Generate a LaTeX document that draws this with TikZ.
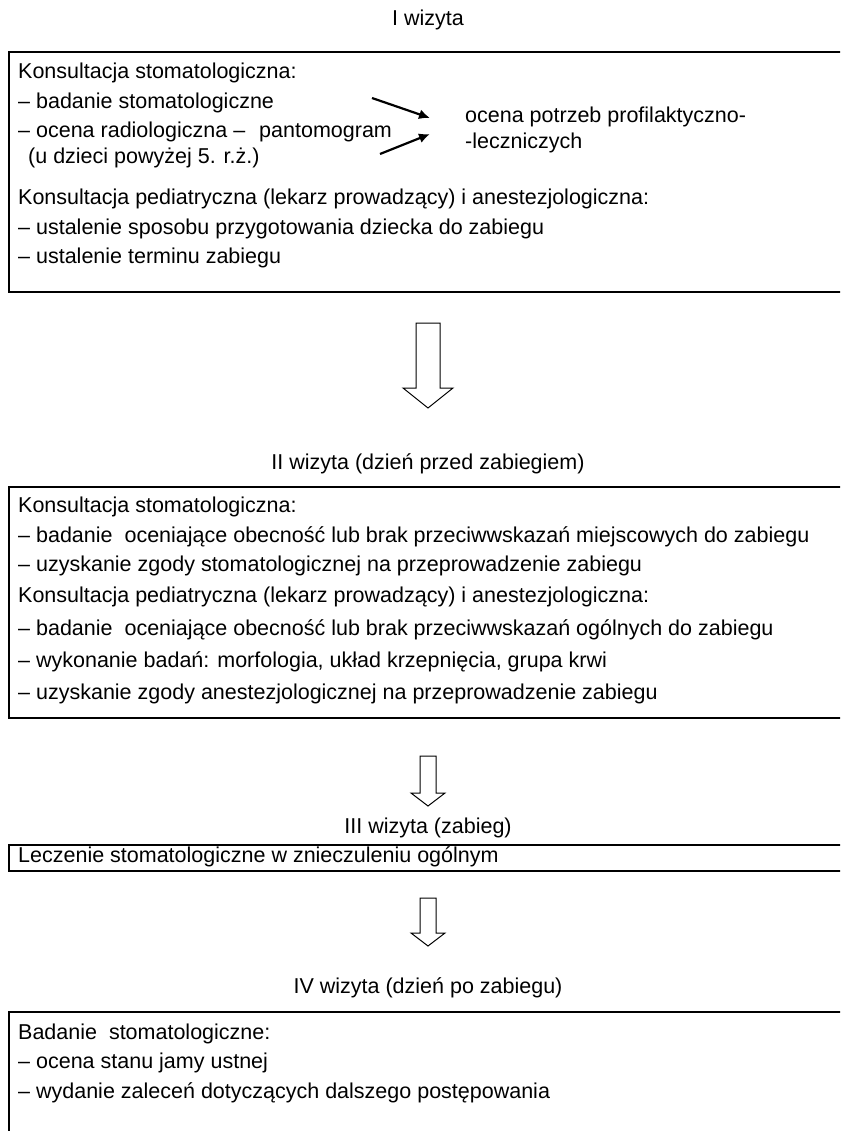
\documentclass[tikz,border=0pt]{standalone}
\usepackage{fontspec}
\setmainfont{Liberation Sans}
\usetikzlibrary{arrows.meta}
\begin{document}
\begin{tikzpicture}[x=1pt,y=-1pt,
  txt/.style={anchor=west,inner sep=0pt,font=\fontsize{21.5}{24}\selectfont},
  ttl/.style={anchor=center,inner sep=0pt,font=\fontsize{21.5}{24}\selectfont},
  boxst/.style={draw=black,line width=1.4pt},
  hollow/.style={draw=black,line width=1pt,fill=white,line join=miter},
  thick arr/.style={line width=2.2pt,-{Latex[length=11pt,width=10pt]}}]
\useasboundingbox (0,0) rectangle (840,1131);
\clip (0,0) rectangle (840,1131);
\fill[white] (0,0) rectangle (840,1131);

% I wizyta
\node[ttl] (t1) at (428,20) {I wizyta};
\draw[boxst] (9,52) rectangle (870,292);
\node[txt] (l11) at (18,73) {Konsultacja stomatologiczna:};
\node[txt] (l12) at (18,103) {– badanie stomatologiczne};
\node[txt] (l13) at (18,132) {– ocena radiologiczna –\hspace{14pt}pantomogram};
\node[txt] (l14) at (28,158) {(u dzieci powyżej 5. r.ż.)};
\node[txt] (r1) at (465,117) {ocena potrzeb profilaktyczno-};
\node[txt] (r2) at (465,143) {-leczniczych};
\node[txt] (l15) at (18,199) {Konsultacja pediatryczna (lekarz prowadzący) i anestezjologiczna:};
\node[txt] (l16) at (18,229) {– ustalenie sposobu przygotowania dziecka do zabiegu};
\node[txt] (l17) at (18,258) {– ustalenie terminu zabiegu};
\coordinate (a1s) at (372,98);
\coordinate (a1e) at (430,118);
\coordinate (a2s) at (380,154);
\coordinate (a2e) at (430,134);
\draw[thick arr] (a1s) -- (a1e);
\draw[thick arr] (a2s) -- (a2e);

% arrow 1
\draw[hollow] (416,323) -- (440,323) -- (440,388) -- (453,388) -- (428,408)
  -- (403,388) -- (416,388) -- cycle;

% II wizyta
\node[ttl] (t2) at (428,464) {II wizyta (dzień przed zabiegiem)};
\draw[boxst] (9,487) rectangle (870,718);
\node[txt] (l21) at (18,507) {Konsultacja stomatologiczna:};
\node[txt] (l22) at (18,537) {– badanie\ \ oceniające obecność lub brak przeciwwskazań miejscowych do zabiegu};
\node[txt] (l23) at (18,566) {– uzyskanie zgody stomatologicznej na przeprowadzenie zabiegu};
\node[txt] (l24) at (18,597) {Konsultacja pediatryczna (lekarz prowadzący) i anestezjologiczna:};
\node[txt] (l25) at (18,630) {– badanie\ \ oceniające obecność lub brak przeciwwskazań ogólnych do zabiegu};
\node[txt] (l26) at (18,662) {– wykonanie badań: morfologia, układ krzepnięcia, grupa krwi};
\node[txt] (l27) at (18,694) {– uzyskanie zgody anestezjologicznej na przeprowadzenie zabiegu};

% arrow 2
\draw[hollow] (420,756) -- (436,756) -- (436,793) -- (445,793) -- (428,806)
  -- (411,793) -- (420,793) -- cycle;

% III wizyta
\node[ttl] (t3) at (428,828) {III wizyta (zabieg)};
\draw[boxst] (9,845) rectangle (870,871);
\node[txt] (l31) at (18,857) {Leczenie stomatologiczne w znieczuleniu ogólnym};

% arrow 3
\draw[hollow] (420,898) -- (436,898) -- (436,933) -- (445,933) -- (428,946)
  -- (411,933) -- (420,933) -- cycle;

% IV wizyta
\node[ttl] (t4) at (428,988) {IV wizyta (dzień po zabiegu)};
\draw[boxst] (9,1012) rectangle (870,1160);
\node[txt] (l41) at (18,1034) {Badanie\ \ stomatologiczne:};
\node[txt] (l42) at (18,1063) {– ocena stanu jamy ustnej};
\node[txt] (l43) at (18,1093) {– wydanie zaleceń dotyczących dalszego postępowania};
\end{tikzpicture}
\end{document}
